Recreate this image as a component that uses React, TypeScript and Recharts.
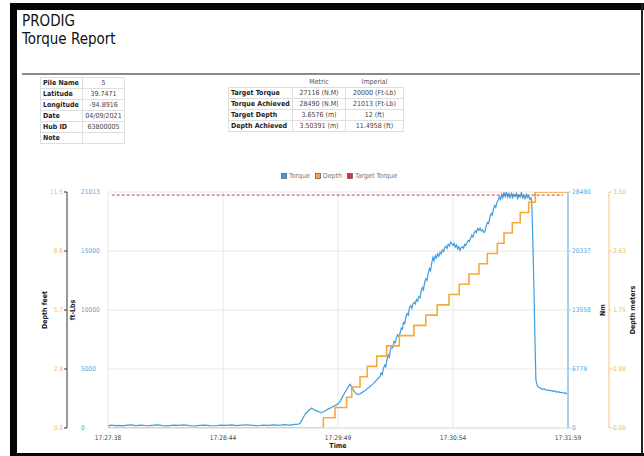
import React from 'react';
import { ComposedChart, Line, XAxis, YAxis, CartesianGrid, Legend } from 'recharts';

const FONT = "'DejaVu Sans Condensed', 'DejaVu Sans', sans-serif";

// ---- header tables ----
const pileLabels = ['Pile Name', 'Latitude', 'Longitude', 'Date', 'Hub ID', 'Note'];
const pileValues = ['5', '39.7471', '-94.8916', '04/09/2021', '63800005', ''];
const summaryHeaders = ['', 'Metric', 'Imperial'];
const summaryLabels = ['Target Torque', 'Torque Achieved', 'Target Depth', 'Depth Achieved'];
const summaryMetric = ['27116 (N.M)', '28490 (N.M)', '3.6576 (m)', '3.50391 (m)'];
const summaryImperial = ['20000 (Ft-Lb)', '21013 (Ft-Lb)', '12 (ft)', '11.4958 (ft)'];
const legendOrder = ['Torque', 'Depth', 'Target Torque'];

// ---- axes ----
const timeTicks = [0, 65.25, 130.5, 195.75, 261];
const timeLabels = ['17:27:38', '17:28:44', '17:29:49', '17:30:54', '17:31:59'];
const torqueFtLbMax = 21013;
const torqueNmMax = 28490;
const depthFtMax = 11.4958;
const depthMMax = 3.50391;
const gridFractions = [0, 0.25, 0.5, 0.75, 1];
const ftLbTickLabels = ['0', '5000', '10000', '15000', '21013'];
const nmTickLabels = ['0', '6779', '13558', '20337', '28490'];

// ---- torque samples: [seconds from start, ft-lb] ----
const torqueSamples: [number, number][] = [
  [0, 180], [2, 260], [4, 210], [6, 240], [8, 190], [10, 230], [13, 270], [16, 210], [19, 250], [22, 200],
  [25, 240], [28, 280], [31, 220], [34, 190], [37, 250], [40, 230], [43, 270], [46, 210], [49, 180],
  [52, 240], [55, 260], [58, 220], [61, 200], [64, 250], [67, 230], [70, 270], [73, 210], [76, 250],
  [79, 290], [82, 240], [85, 200], [88, 260], [91, 230], [94, 280], [97, 240], [100, 300], [103, 260],
  [106, 320], [108, 350], [109, 420], [110, 700], [111, 1000], [112, 1250], [113, 1400], [114, 1600],
  [115, 1700], [115.6, 1780], [116.3, 1700], [117, 1620], [118, 1550], [119, 1480], [120, 1420],
  [121, 1360], [122, 1420], [123, 1520], [124, 1600], [125, 1700], [126, 1760], [127, 1850], [127.7, 1920],
  [128.5, 1980], [129.5, 2060], [130.5, 2150], [131.6, 2340], [132.3, 2550], [133, 2750], [134, 3050],
  [135, 3300], [136, 3600], [137.3, 3890], [138, 3750], [138.8, 3500], [139.5, 3300], [140.3, 3150],
  [141, 3050], [142, 2980], [143, 3050], [144, 3150], [145, 3250], [146, 3350], [147, 3500], [148, 3600],
  [148.7, 3700], [149.5, 3800], [150.5, 3950], [151.5, 4100], [152.5, 4280], [153.4, 4450], [154.3, 4570],
  [155, 4900], [155.6, 4750], [156.3, 5300], [157, 5600], [157.6, 5450], [158.3, 6100], [159, 6500],
  [159.6, 6300], [160.3, 7000], [161, 7300], [161.6, 7150], [162.3, 7700], [163, 7600], [163.6, 8000],
  [164.3, 8300], [165, 8150], [165.7, 8430], [166.4, 8900], [167, 8800], [167.7, 9400], [168.4, 9300],
  [169, 9900], [169.7, 10200], [170.4, 10050], [171, 10700], [171.7, 10900], [172.4, 10650], [173, 11050],
  [173.7, 11200], [174.4, 11050], [175, 11450], [175.7, 11300], [176.4, 11700], [177, 11600], [177.7, 12200],
  [178.4, 12500], [179, 12300], [179.7, 13000], [180.4, 13300], [181, 13150], [181.7, 13800], [182.4, 14200],
  [183, 14000], [183.7, 14700], [184.4, 15200], [185, 14900], [185.7, 15350], [186.4, 15150], [187, 15500],
  [187.7, 15300], [188.4, 15650], [189, 15500], [189.7, 15850], [190.4, 15700], [191, 16050], [191.7, 16200],
  [192.4, 16000], [193, 16350], [193.7, 16200], [194.4, 16550], [195, 16400], [195.7, 16250], [196.4, 16450],
  [197, 16100], [197.7, 16300], [198.4, 15950], [199, 16150], [199.7, 15800], [200.4, 16050], [201, 16150],
  [201.7, 16000], [202.4, 16350], [203, 16250], [203.7, 16500], [204.4, 16700], [205, 16600], [205.7, 16900],
  [206.4, 17150], [207, 17000], [207.7, 17350], [208.4, 17550], [209, 17400], [209.7, 17750], [210.4, 17600],
  [211.1, 17800], [211.8, 17550], [212.5, 17650], [213.2, 17400], [213.9, 17500], [214.6, 18000],
  [215.3, 18300], [216, 18200], [216.7, 18800], [217.4, 19100], [218, 18950], [218.7, 19500], [219.4, 19800],
  [220, 19650], [220.7, 20100], [221.4, 20300], [222, 20600], [222.7, 20350], [223.4, 20800], [224, 20500],
  [224.7, 20950], [225.4, 20600], [226.1, 21000], [226.8, 20550], [227.5, 20850], [228.2, 20450],
  [228.9, 20950], [229.6, 20500], [230.3, 20800], [231, 20600], [231.7, 20900], [232.4, 20450],
  [233.1, 20750], [233.8, 20550], [234.5, 20950], [235.2, 20500], [235.9, 20700], [236.6, 20400],
  [237.3, 20800], [238, 20500], [238.7, 20650], [239.4, 20350], [240, 20500], [240.4, 20250], [241, 17000],
  [241.7, 12300], [242.3, 7500], [242.8, 4280], [243.5, 3800], [244.5, 3600], [245.5, 3550], [246.5, 3450],
  [247.5, 3480], [248.5, 3380], [249.5, 3400], [250.5, 3320], [251.5, 3350], [252.5, 3260], [253.5, 3300],
  [254.5, 3200], [255.5, 3230], [256.5, 3150], [257.5, 3180], [258.5, 3100], [259.5, 3120], [260.3, 3060],
  [261, 3090],
];
const depthTimes = [
  0, 122.2, 128.8, 135.4, 138.3, 143.0, 147.1, 152.5, 158.1, 165.3, 173.6, 180.3, 186.8, 193.5, 199.3,
  204.8, 210.5, 215.2, 220.9, 224.7, 229.4, 233.9, 238.7, 242.4, 261,
];
const depthFt = [
  0, 0.5, 1.0, 1.5, 2.0, 2.5, 3.0, 3.5, 4.0, 4.5, 5.0, 5.5, 6.0, 6.5, 7.0, 7.5, 8.0, 8.5, 9.0, 9.5,
  10.0, 10.5, 11.0, 11.4958, 11.4958,
];
const targetTimes = [2.1, 258.2];
const targetTorqueFtLb = [20740, 20740];

const torqueData = torqueSamples.map(([t, v]) => ({ t, torque: v }));
const depthData = depthTimes.map((t, i) => ({ t, depth: depthFt[i] }));
const targetData = targetTimes.map((t, i) => ({ t, target: targetTorqueFtLb[i] }));

const BLUE = '#3d9ddf';
const ORANGE = '#f4a93a';
const ORANGE_TXT = '#f5b966';
const BLUE_TXT = '#4ea5e0';
const RED = '#e2333a';

const vTitle = (text: string, dx: number) => (props: any) => {
  const vb = props.viewBox || {};
  const x = (vb.x || 0) + dx;
  const y = (vb.y || 0) + (vb.height || 0) / 2;
  return (
    <text x={x} y={y} transform={`rotate(-90 ${x} ${y})`} textAnchor="middle" dominantBaseline="central"
      fontSize={7} fontWeight="bold" fill="#222" fontFamily={FONT}>{text}</text>
  );
};

const timeTitle = (props: any) => {
  const vb = props.viewBox || {};
  const x = (vb.x || 0) + (vb.width || 0) / 2;
  const y = (vb.y || 0) + 18;
  return <text x={x} y={y} textAnchor="middle" dominantBaseline="central" fontSize={7} fontWeight="bold" fill="#222" fontFamily={FONT}>Time</text>;
};

const FtLbTick = (props: any) => {
  const { x, y, index } = props;
  return <text x={x} y={y} dy="0.35em" textAnchor="start" fontSize={6.5} fill={BLUE_TXT} fontFamily={FONT}>{ftLbTickLabels[index]}</text>;
};

const seriesColor: Record<string, string> = { Torque: BLUE, Depth: ORANGE, 'Target Torque': RED };

const renderLegend = (props: any) => {
  const items = [...(props.payload || [])].sort(
    (a: any, b: any) => legendOrder.indexOf(a.value) - legendOrder.indexOf(b.value));
  return (
    <div style={{ display: 'flex', alignItems: 'center', fontSize: 7, color: '#777', fontFamily: FONT, whiteSpace: 'nowrap' }}>
      {items.map((it: any) => (
        <span key={it.value} style={{ display: 'flex', alignItems: 'center', marginRight: 5 }}>
          <svg width={6} height={6} style={{ marginRight: 2 }}>
            <rect x={0.5} y={0.5} width={5} height={5} fill={seriesColor[it.value] || it.color} stroke="#555" strokeWidth={0.7} />
          </svg>
          {it.value}
        </span>
      ))}
    </div>
  );
};

const cellBase: React.CSSProperties = {
  border: '1px solid #dedede', height: 10, padding: '0 2px', fontSize: 7, lineHeight: '10px',
  whiteSpace: 'nowrap', overflow: 'hidden', color: '#222',
};

export default function App() {
  return (
    <div style={{ position: 'absolute', left: 0, top: 0, width: 644, height: 456, background: '#fff', overflow: 'hidden', fontFamily: FONT }}>
      {/* frame */}
      <div style={{ position: 'absolute', left: 10, top: 3, width: 634, height: 7, background: '#050505' }} />
      <div style={{ position: 'absolute', left: 10, top: 3, width: 7, height: 453, background: '#050505' }} />
      <div style={{ position: 'absolute', left: 641, top: 3, width: 2, height: 453, background: '#222' }} />
      <div style={{ position: 'absolute', left: 10, top: 453, width: 634, height: 3, background: '#050505' }} />
      {/* title */}
      <div style={{ position: 'absolute', left: 22, top: 14, fontSize: 15, lineHeight: '15px', color: '#111' }}>PRODIG</div>
      <div style={{ position: 'absolute', left: 22, top: 32, fontSize: 15, lineHeight: '15px', color: '#111' }}>Torque Report</div>
      <div style={{ position: 'absolute', left: 22, top: 73, width: 618, height: 2, background: '#8a8a8a' }} />

      {/* pile table */}
      <table style={{ position: 'absolute', left: 40, top: 77, borderCollapse: 'collapse', tableLayout: 'fixed', width: 82 }}>
        <tbody>
          {pileLabels.map((l, i) => (
            <tr key={l}>
              <td style={{ ...cellBase, width: 37, fontWeight: 'bold', textAlign: 'left' }}>{l}</td>
              <td style={{ ...cellBase, width: 37, textAlign: 'center', color: '#444' }}>{pileValues[i]}</td>
            </tr>
          ))}
        </tbody>
      </table>

      {/* summary table */}
      <table style={{ position: 'absolute', left: 228, top: 77, borderCollapse: 'collapse', tableLayout: 'fixed', width: 175 }}>
        <tbody>
          <tr>
            {summaryHeaders.map((h, i) => (
              <td key={i} style={{ ...cellBase, border: 'none', width: [60, 49, 54][i], textAlign: 'center', color: '#555' }}>{h}</td>
            ))}
          </tr>
          {summaryLabels.map((l, i) => (
            <tr key={l}>
              <td style={{ ...cellBase, fontWeight: 'bold', textAlign: 'left' }}>{l}</td>
              <td style={{ ...cellBase, textAlign: 'center', color: '#444' }}>{summaryMetric[i]}</td>
              <td style={{ ...cellBase, textAlign: 'center', color: '#444' }}>{summaryImperial[i]}</td>
            </tr>
          ))}
        </tbody>
      </table>

      <ComposedChart width={644} height={456} margin={{ top: 192, right: 0, bottom: 4, left: 20 }}
        style={{ position: 'absolute', left: 0, top: 0 }}>
        <CartesianGrid stroke="#e8e8e8" yAxisId="a_ft" xAxisId="time" />
        <XAxis xAxisId="time" dataKey="t" type="number" domain={[0, 261]} ticks={timeTicks} allowDataOverflow
          tickFormatter={(v: number, i: number) => timeLabels[i]} height={24} tickLine={false}
          axisLine={{ stroke: '#e0e0e0' }} tickMargin={1} interval={0}
          tick={{ fontSize: 6.5, fill: '#444', fontFamily: FONT }} label={timeTitle} />
        <YAxis yAxisId="b_depthFt" orientation="left" width={47} type="number" domain={[0, depthFtMax]}
          ticks={gridFractions.map((f) => f * depthFtMax)} interval={0} allowDataOverflow
          tickFormatter={(v: number) => v.toFixed(1)} axisLine={{ stroke: '#333' }} tickLine={{ stroke: '#333' }}
          tickSize={3} tickMargin={1} tick={{ fontSize: 6.5, fill: ORANGE_TXT, fontFamily: FONT }}
          label={vTitle('Depth feet', 25)} />
        <YAxis yAxisId="a_ft" orientation="left" width={41} type="number" domain={[0, torqueFtLbMax]}
          ticks={gridFractions.map((f) => f * torqueFtLbMax)} interval={0} allowDataOverflow
          axisLine={false} tickLine={false} tickSize={0} tickMargin={27} tick={<FtLbTick />}
          label={vTitle('ft-Lbs', 6)} />
        <YAxis yAxisId="b_depthM" orientation="right" width={35} type="number" domain={[0, depthMMax]}
          ticks={gridFractions.map((f) => f * depthMMax)} interval={0} allowDataOverflow
          tickFormatter={(v: number) => v.toFixed(2)} axisLine={{ stroke: '#f7c47a' }} tickLine={{ stroke: '#f7c47a' }}
          tickSize={3} tickMargin={1} tick={{ fontSize: 6.5, fill: ORANGE_TXT, fontFamily: FONT }}
          label={vTitle('Depth meters', 24)} />
        <YAxis yAxisId="a_nm" orientation="right" width={41} type="number" domain={[0, torqueNmMax]}
          ticks={gridFractions.map((f) => f * torqueNmMax)} interval={0} allowDataOverflow
          tickFormatter={(v: number, i: number) => nmTickLabels[i]}
          axisLine={{ stroke: '#a9d0ee', strokeWidth: 2 }} tickLine={{ stroke: '#a9d0ee' }}
          tickSize={3} tickMargin={1} tick={{ fontSize: 6.5, fill: BLUE_TXT, fontFamily: FONT }}
          label={vTitle('Nm', 35)} />
        <Legend verticalAlign="middle" align="center" layout="horizontal" content={renderLegend}
          wrapperStyle={{ top: 172, left: 281, width: 'auto' }} />
        <Line xAxisId="time" yAxisId="a_ft" name="Torque" data={torqueData} dataKey="torque" type="linear"
          stroke={BLUE} strokeWidth={1.2} dot={false} activeDot={false} isAnimationActive={false} />
        <Line xAxisId="time" yAxisId="b_depthFt" name="Depth" data={depthData} dataKey="depth" type="stepAfter"
          stroke={ORANGE} strokeWidth={1.6} dot={false} activeDot={false} isAnimationActive={false} />
        <Line xAxisId="time" yAxisId="a_ft" name="Target Torque" data={targetData} dataKey="target" type="linear"
          stroke={RED} strokeWidth={1} strokeDasharray="3 2" dot={false} activeDot={false} isAnimationActive={false} />
      </ComposedChart>
    </div>
  );
}
